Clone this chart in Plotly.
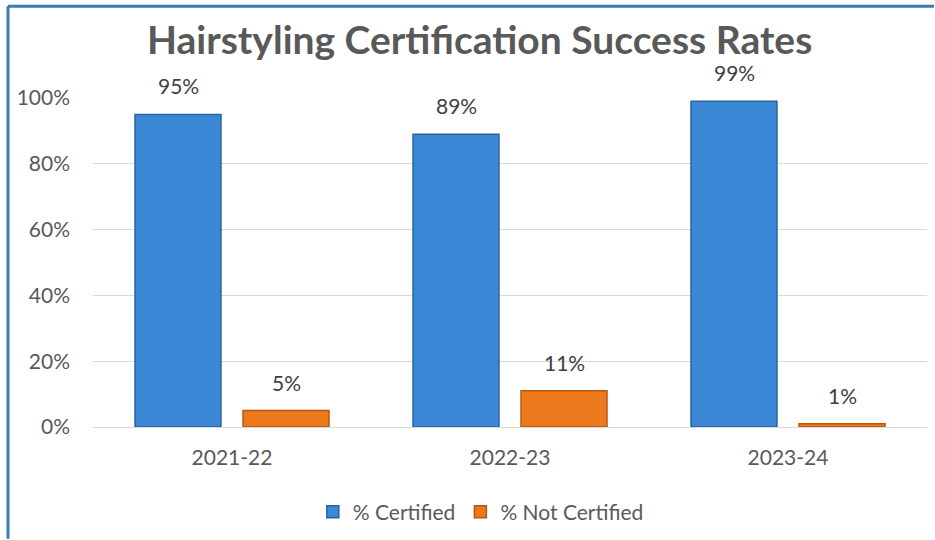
import plotly.graph_objects as go

# Certification outcomes by school year
years = ["2021-22", "2022-23", "2023-24"]
certified = [0.95, 0.89, 0.99]
not_certified = [0.05, 0.11, 0.01]
y_ticks = [0, 0.2, 0.4, 0.6, 0.8, 1.0]
y_tick_labels = ["0%", "20%", "40%", "60%", "80%", "100%"]

FONT = "Lato"
TEXT_GREY = "#595959"
LABEL_GREY = "#404040"
BLUE = "#3b88d6"
BLUE_EDGE = "#2a64a0"
ORANGE = "#ec7a1c"
ORANGE_EDGE = "#b9560c"
FRAME = "#3a7cb0"

# plot-area size in pixels, used to place the page frame in paper units
L, R, T, B = 93, 8, 98, 112
PW, PH = 935 - L - R, 540 - T - B

fig = go.Figure()
fig.add_trace(go.Bar(
    name="% Certified", x=years, y=certified,
    marker=dict(color=BLUE, line=dict(color=BLUE_EDGE, width=1.5)),
))
fig.add_trace(go.Bar(
    name="% Not Certified", x=years, y=not_certified,
    marker=dict(color=ORANGE, line=dict(color=ORANGE_EDGE, width=1.5)),
))

# value labels above each bar
annotations = []
for series, shift in ((certified, -54), (not_certified, 54)):
    for yr, v in zip(years, series):
        annotations.append(dict(
            x=yr, y=v, xref="x", yref="y", text=f"{v:.0%}",
            showarrow=False, yanchor="bottom", xshift=shift, yshift=14,
            font=dict(family=FONT, size=21, color=LABEL_GREY),
        ))

# frame edges along the top and left of the page
top = 1 + (T - 6) / PH
left = -(L - 8) / PW
shapes = [
    dict(type="line", xref="paper", yref="paper",
         x0=left, x1=1 + (R - 1) / PW, y0=top, y1=top,
         line=dict(color=FRAME, width=3)),
    dict(type="line", xref="paper", yref="paper",
         x0=left, x1=left, y0=top, y1=-B / PH,
         line=dict(color=FRAME, width=3)),
]

fig.update_layout(
    width=935, height=540,
    margin=dict(l=L, r=R, t=T, b=B),
    paper_bgcolor="white", plot_bgcolor="white",
    barmode="group", bargap=0.223, bargroupgap=0.204,
    title=dict(
        text="<b>Hairstyling Certification Success Rates</b>",
        x=0.513, xanchor="center", y=0.925, yanchor="middle",
        font=dict(family=FONT, size=39, color=TEXT_GREY),
    ),
    font=dict(family=FONT, size=21, color=TEXT_GREY),
    xaxis=dict(showgrid=False, showline=False, ticks="",
               tickfont=dict(family=FONT, size=21, color=TEXT_GREY),
               ticklabelstandoff=16),
    yaxis=dict(range=[0, 1.0], tickvals=y_ticks, ticktext=y_tick_labels,
               showgrid=True, gridcolor="#d9d9d9", gridwidth=1.2,
               zeroline=True, zerolinecolor="#d9d9d9", zerolinewidth=1.2,
               showline=False, ticks="",
               tickfont=dict(family=FONT, size=21, color=TEXT_GREY),
               ticklabelstandoff=22),
    legend=dict(orientation="h", x=0.465, xanchor="center", y=-0.255,
                yanchor="middle", font=dict(family=FONT, size=21, color=TEXT_GREY),
                itemwidth=30, tracegroupgap=0),
    annotations=annotations,
    shapes=shapes,
)

fig.write_html("out.html", config={"displayModeBar": False})
